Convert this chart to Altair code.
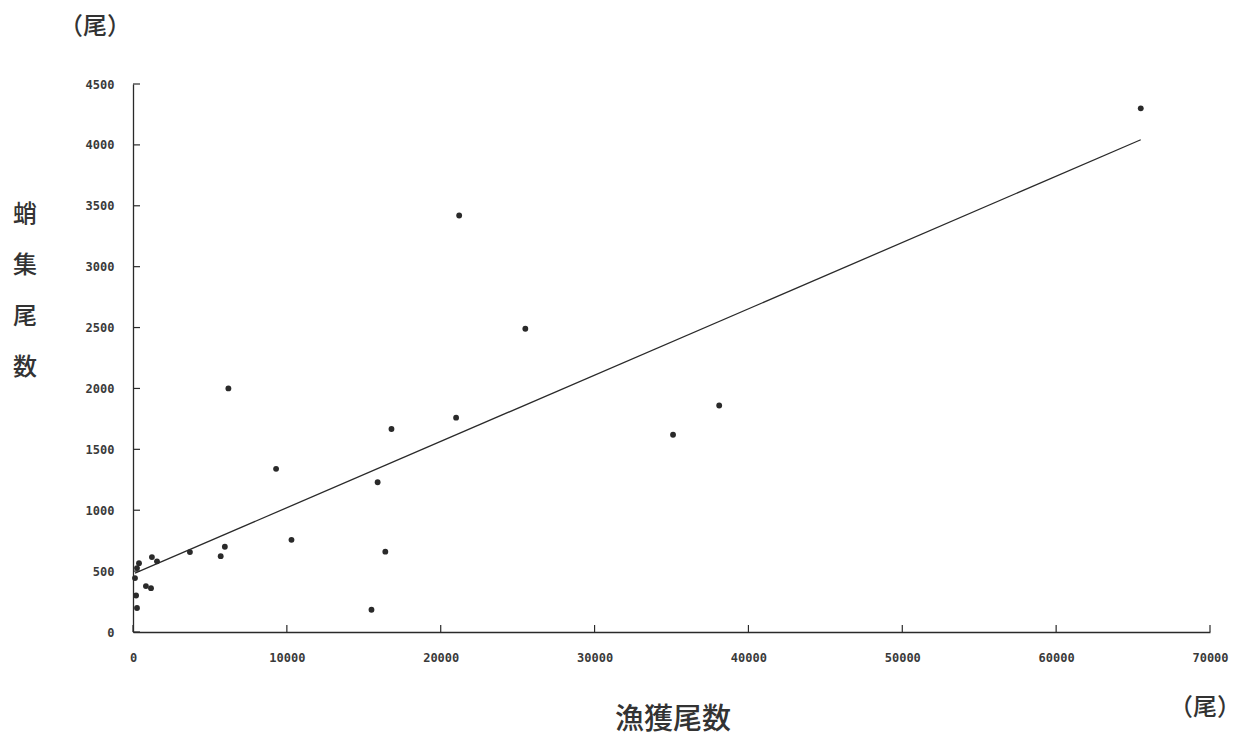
import altair as alt
import pandas as pd

# Catch numbers (x) and octopus-gathering counts (y) per observation
catch = [130, 200, 260, 260, 390, 840, 1170, 1230, 1560, 3700, 5700, 5970,
         6200, 9300, 10300, 15500, 15900, 16400, 16800, 21000, 21200, 25500,
         35100, 38100, 65500]
gathered = [443, 300, 197, 525, 565, 377, 360, 615, 580, 656, 623, 700,
            2000, 1340, 757, 183, 1230, 660, 1667, 1760, 3420, 2490,
            1620, 1860, 4300]

x_ticks = [0, 10000, 20000, 30000, 40000, 50000, 60000, 70000]
y_ticks = [0, 500, 1000, 1500, 2000, 2500, 3000, 3500, 4000, 4500]

y_title = ["蛸", "集", "尾", "数"]
x_title = "漁獲尾数"
unit = "（尾）"

W, H = 1077, 548
INK = "#2a2a2a"
CJK = "Noto Sans CJK JP"
NUM = "DejaVu Sans Mono"

df = pd.DataFrame({"catch": catch, "gathered": gathered})
xt = pd.DataFrame({"v": x_ticks})
yt = pd.DataFrame({"v": y_ticks})

xs = alt.Scale(domain=[0, 70000], nice=False, zero=True)
ys = alt.Scale(domain=[0, 4500], nice=False, zero=True)

x_axis = alt.Axis(values=x_ticks, format="d", ticks=False, grid=False,
                  domainColor=INK, domainWidth=1.3, labelFont=NUM,
                  labelFontSize=12, labelFontWeight="bold", labelColor="#3a3a3a",
                  labelPadding=20, title=None, labelFlush=False)
y_axis = alt.Axis(values=y_ticks, format="d", ticks=False, grid=False,
                  domainColor=INK, domainWidth=1.3, labelFont=NUM,
                  labelFontSize=12, labelFontWeight="bold", labelColor="#3a3a3a",
                  labelPadding=19, title=None)

points = alt.Chart(df).mark_circle(size=34, color=INK, opacity=1).encode(
    x=alt.X("catch:Q", scale=xs, axis=x_axis),
    y=alt.Y("gathered:Q", scale=ys, axis=y_axis),
)

fit = alt.Chart(df).transform_regression("catch", "gathered").mark_line(
    color=INK, strokeWidth=1.3
).encode(x=alt.X("catch:Q", scale=xs), y=alt.Y("gathered:Q", scale=ys))

# inward tick marks on both axes
y_tick_marks = alt.Chart(yt).mark_rule(color=INK, strokeWidth=1.2).encode(
    y=alt.Y("v:Q", scale=ys), x=alt.value(0), x2=alt.value(7)
)
x_tick_marks = alt.Chart(xt).mark_rule(color=INK, strokeWidth=1.2).encode(
    x=alt.X("v:Q", scale=xs), y=alt.value(H), y2=alt.value(H - 7)
)

def label(text, x, y, size, line_height=None):
    kw = dict(font=CJK, fontSize=size, color="#333333", fontWeight=500,
              align="center", baseline="middle")
    if line_height:
        kw["lineHeight"] = line_height
    return alt.Chart(pd.DataFrame({"t": [0]})).mark_text(**kw).encode(
        x=alt.value(x), y=alt.value(y), text=alt.value(text)
    )

top_unit = label(unit, -38, -57, 24)
right_unit = label(unit, 1072, 624, 24)
x_lab = label(x_title, 540, 636, 29)
y_lab = label(y_title, -108, 131, 24, line_height=51)

chart = alt.layer(
    points, fit, y_tick_marks, x_tick_marks, top_unit, right_unit, x_lab, y_lab
).properties(
    width=W, height=H,
    autosize=alt.AutoSizeParams(type="none"),
    padding={"left": 133, "top": 84, "right": 34, "bottom": 104},
    background="white",
).configure_view(stroke=None)

chart.save("out.html", embed_options={"renderer": "svg", "actions": False})
